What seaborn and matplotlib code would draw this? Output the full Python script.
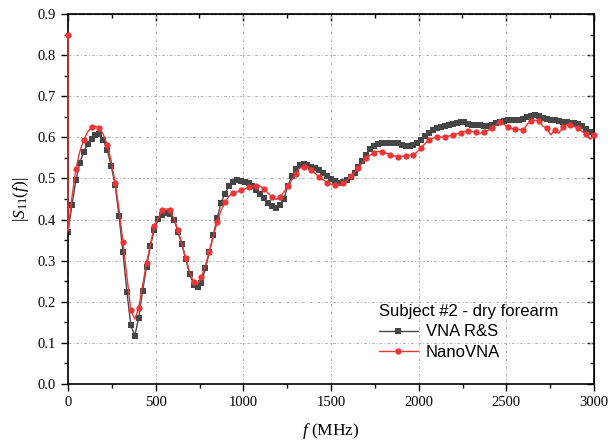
import numpy as np
import matplotlib
matplotlib.use("Agg")
import matplotlib.pyplot as plt
import seaborn as sns
from matplotlib.ticker import MultipleLocator, NullFormatter

# frequency grid (MHz), 135 samples from 0 to 3000
freq = np.linspace(0, 3000, 135)

# VNA R&S |S11|
vna_rs = [
    0.370, 0.435, 0.495, 0.537, 0.565, 0.584, 0.596, 0.606, 0.608, 0.594,
    0.569, 0.531, 0.484, 0.409, 0.320, 0.225, 0.144, 0.117, 0.161, 0.226,
    0.285, 0.336, 0.375, 0.401, 0.411, 0.417, 0.413,
    0.400, 0.370, 0.340, 0.303, 0.268, 0.242, 0.235, 0.245, 0.281, 0.320,
    0.362, 0.403, 0.441, 0.463, 0.482, 0.492, 0.495, 0.494, 0.491, 0.488,
    0.482, 0.472, 0.462, 0.452, 0.441, 0.433, 0.428, 0.435,
    0.450, 0.482, 0.505, 0.522, 0.532, 0.535, 0.533, 0.529, 0.525, 0.520,
    0.514, 0.506, 0.499, 0.493, 0.490, 0.491, 0.496, 0.503, 0.513, 0.529,
    0.542, 0.556, 0.572, 0.580, 0.583, 0.585,
    0.587, 0.587, 0.586, 0.585, 0.582, 0.580, 0.579, 0.581, 0.586, 0.594,
    0.603, 0.611, 0.618, 0.622, 0.626, 0.628, 0.629, 0.632, 0.635, 0.638,
    0.637, 0.632, 0.630, 0.630, 0.630, 0.628, 0.628, 0.631, 0.634, 0.638,
    0.640, 0.641, 0.641, 0.641, 0.642, 0.645, 0.650, 0.653, 0.654, 0.651,
    0.646, 0.645, 0.643, 0.641, 0.640, 0.638, 0.637, 0.636, 0.635, 0.632,
    0.627, 0.620, 0.614, 0.608,
]

# NanoVNA |S11| (first value is the spike at 0 MHz)
nano_start = 0.85
nano_vna = [
    0.370, 0.455, 0.522, 0.565, 0.593, 0.613, 0.625, 0.627, 0.623, 0.607,
    0.582, 0.543, 0.490, 0.425, 0.345, 0.262, 0.180, 0.158, 0.185, 0.240,
    0.294, 0.340, 0.385, 0.404, 0.423, 0.426, 0.424,
    0.402, 0.375, 0.342, 0.306, 0.272, 0.248, 0.243, 0.261, 0.288, 0.322,
    0.360, 0.393, 0.422, 0.442, 0.457, 0.464, 0.467, 0.471, 0.474, 0.478,
    0.481, 0.482, 0.481, 0.474, 0.464, 0.455, 0.449,
    0.455, 0.467, 0.482, 0.496, 0.511, 0.525, 0.528, 0.529, 0.521, 0.512,
    0.504, 0.497, 0.490, 0.486, 0.484, 0.484, 0.488, 0.494, 0.505, 0.515,
    0.525, 0.538, 0.550, 0.557, 0.563, 0.566, 0.564,
    0.562, 0.558, 0.555, 0.553, 0.554, 0.555, 0.556, 0.557, 0.565, 0.575,
    0.585, 0.594, 0.598, 0.602, 0.601, 0.600, 0.603, 0.606, 0.608, 0.611,
    0.614, 0.616, 0.614, 0.612, 0.610, 0.614, 0.617, 0.622, 0.630, 0.637,
    0.632, 0.625, 0.622, 0.620, 0.619, 0.618, 0.632, 0.640, 0.642, 0.640,
    0.627, 0.622, 0.606, 0.618, 0.610, 0.624, 0.631, 0.630, 0.626, 0.622,
    0.614, 0.608, 0.595, 0.605,
]

legend_title = "Subject #2 - dry forearm"
labels = ["VNA R&S", "NanoVNA"]

sns.set_style("ticks")
plt.rcParams["font.family"] = ["Liberation Serif", "DejaVu Serif"]
plt.rcParams["mathtext.fontset"] = "custom"
plt.rcParams["mathtext.rm"] = "Liberation Serif"
plt.rcParams["mathtext.it"] = "Liberation Serif:italic"
plt.rcParams["text.color"] = "black"
plt.rcParams["axes.labelcolor"] = "black"

fig = plt.figure(figsize=(6.08, 4.44), dpi=100)
ax = fig.add_axes([68 / 608, 60 / 444, 526 / 608, 370 / 444])

gray = "#464646"
red = "#ee3535"

sns.lineplot(x=freq, y=vna_rs, ax=ax, color=gray, linewidth=1.0,
             marker="s", markersize=4.4, markeredgewidth=0, markeredgecolor=gray,
             estimator=None, sort=False, label=labels[0])

nano_freq = np.concatenate([[0.0], freq])
nano_vals = [nano_start] + nano_vna
marks = [0] + list(range(3, len(nano_vals), 2))
sns.lineplot(x=nano_freq, y=nano_vals, ax=ax, color=red, linewidth=1.0,
             marker="o", markersize=4.5, markeredgewidth=0, markeredgecolor=red,
             markevery=marks, estimator=None, sort=False, label=labels[1],
             zorder=3, clip_on=False)

ax.set_xlim(0, 3000)
ax.set_ylim(0, 0.9)
ax.xaxis.set_major_locator(MultipleLocator(500))
ax.xaxis.set_minor_locator(MultipleLocator(250))
ax.yaxis.set_major_locator(MultipleLocator(0.1))
ax.yaxis.set_minor_locator(MultipleLocator(0.05))
ax.yaxis.set_major_formatter(matplotlib.ticker.FormatStrFormatter("%.1f"))
ax.tick_params(which="major", direction="out", length=5, width=1, labelsize=10.5,
               colors="black", labelcolor="black")
ax.tick_params(which="minor", direction="out", length=3, width=1, colors="black")
for s in ax.spines.values():
    s.set_linewidth(1.2)
    s.set_color("black")

ax.grid(True, which="major", color="#b4b4b4", linestyle=(0, (3, 2, 1, 2)), linewidth=0.7)

# mirrored ticks on top / right pointing inward
top = ax.secondary_xaxis("top")
top.xaxis.set_major_locator(MultipleLocator(500))
top.xaxis.set_minor_locator(MultipleLocator(250))
top.xaxis.set_major_formatter(NullFormatter())
top.tick_params(which="major", direction="in", length=5, width=1, colors="black")
top.tick_params(which="minor", direction="in", length=3, width=1, colors="black")
right = ax.secondary_yaxis("right")
right.yaxis.set_major_locator(MultipleLocator(0.1))
right.yaxis.set_minor_locator(MultipleLocator(0.05))
right.yaxis.set_major_formatter(NullFormatter())
right.tick_params(which="major", direction="in", length=5, width=1, colors="black")
right.tick_params(which="minor", direction="in", length=3, width=1, colors="black")

ax.set_xlabel(r"$f$ (MHz)", fontsize=12.5, labelpad=9, color="black")
ax.set_ylabel(r"$|S_{11}(f)|$", fontsize=12.5, labelpad=5, color="black")

leg = ax.legend(title=legend_title, loc="upper left", bbox_to_anchor=(0.576, 0.24),
                frameon=False, title_fontsize=12, handlelength=2.3, numpoints=1,
                borderpad=0, labelspacing=0.35, handletextpad=0.5,
                prop={"family": "Liberation Sans", "size": 12})
leg.get_title().set_family("Liberation Sans")
leg.get_title().set_color("black")
for t in leg.get_texts():
    t.set_color("black")
leg._legend_box.align = "left"

fig.savefig("out.png", dpi=100)
